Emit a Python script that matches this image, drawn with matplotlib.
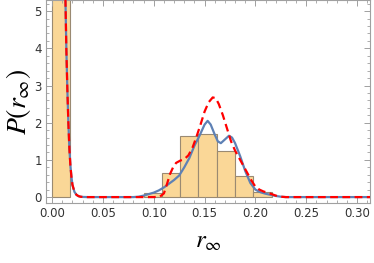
import numpy as np
import matplotlib
matplotlib.use("Agg")
import matplotlib.pyplot as plt
from matplotlib.ticker import MultipleLocator

# histogram (density), bin width 0.018
bin_left = [0.0, 0.090, 0.108, 0.126, 0.144, 0.162, 0.180, 0.198]
bin_height = [49.5, 0.10, 0.65, 1.64, 1.69, 1.24, 0.56, 0.14]
bin_width = 0.018

# blue curve
r_blue = [0.008, 0.010, 0.012, 0.013, 0.014, 0.015, 0.016, 0.017, 0.018, 0.019,
          0.020, 0.022, 0.024, 0.026, 0.028, 0.030, 0.035, 0.060, 0.080, 0.085,
          0.090, 0.095, 0.100, 0.105, 0.110, 0.115, 0.120, 0.125, 0.130, 0.135,
          0.140, 0.145, 0.150, 0.153, 0.156, 0.160, 0.163, 0.166, 0.170, 0.174,
          0.177, 0.180, 0.185, 0.190, 0.195, 0.200, 0.205, 0.210, 0.215, 0.220,
          0.225, 0.230, 0.260, 0.320]
p_blue = [20.0, 12.0, 7.5, 5.5, 4.0, 2.9, 2.0, 1.3, 0.85, 0.55,
          0.33, 0.14, 0.06, 0.025, 0.01, 0.004, 0.0, 0.0, 0.0, 0.01,
          0.04, 0.08, 0.12, 0.18, 0.26, 0.36, 0.46, 0.58, 0.80, 1.05,
          1.38, 1.65, 1.95, 2.05, 1.95, 1.68, 1.50, 1.45, 1.55, 1.65,
          1.60, 1.45, 1.10, 0.70, 0.38, 0.20, 0.13, 0.09, 0.06, 0.03,
          0.01, 0.0, 0.0, 0.0]

# red dashed curve
r_red = [0.008, 0.010, 0.012, 0.013, 0.014, 0.015, 0.016, 0.017, 0.018, 0.019,
         0.020, 0.022, 0.024, 0.026, 0.028, 0.030, 0.035, 0.080, 0.100, 0.106,
         0.110, 0.113, 0.116, 0.119, 0.122, 0.126, 0.130, 0.134, 0.138, 0.142,
         0.146, 0.150, 0.154, 0.158, 0.161, 0.164, 0.168, 0.172, 0.176, 0.180,
         0.184, 0.188, 0.192, 0.196, 0.200, 0.204, 0.208, 0.212, 0.216, 0.220,
         0.225, 0.230, 0.260, 0.320]
p_red = [20.0, 12.0, 7.5, 5.5, 4.0, 2.9, 2.0, 1.3, 0.85, 0.55,
         0.33, 0.14, 0.06, 0.025, 0.01, 0.004, 0.0, 0.0, 0.0, 0.01,
         0.10, 0.35, 0.62, 0.80, 0.92, 0.98, 1.02, 1.12, 1.32, 1.62,
         1.95, 2.30, 2.55, 2.68, 2.66, 2.50, 2.20, 1.85, 1.50, 1.25,
         1.05, 0.85, 0.65, 0.45, 0.28, 0.20, 0.15, 0.12, 0.08, 0.04,
         0.01, 0.0, 0.0, 0.0]

plt.rcParams['mathtext.fontset'] = 'stix'
fig = plt.figure(figsize=(3.74, 2.63), dpi=100)
ax = fig.add_axes([0.123, 0.228, 0.866, 0.772])

ax.bar(bin_left, bin_height, width=bin_width, align='edge',
       color='#fad797', edgecolor='#9a8a72', linewidth=0.8, zorder=1)
ax.plot(r_blue, p_blue, color='#5e81b5', linewidth=1.6, zorder=2)
ax.plot(r_red, p_red, color='#ff0000', linewidth=1.6, linestyle=(0, (3.5, 2)), zorder=3)

ax.set_xlim(-0.006, 0.3126)
ax.set_ylim(-0.16, 5.3)

ax.xaxis.set_major_locator(MultipleLocator(0.05))
ax.xaxis.set_minor_locator(MultipleLocator(0.01))
ax.yaxis.set_major_locator(MultipleLocator(1))
ax.yaxis.set_minor_locator(MultipleLocator(0.2))
ax.xaxis.set_major_formatter(matplotlib.ticker.FormatStrFormatter('%.2f'))

for s in ax.spines.values():
    s.set_color('#a0a0a0')
    s.set_linewidth(0.8)
ax.tick_params(which='both', direction='in', top=True, right=True,
               color='#a0a0a0', labelcolor='#333333', labelsize=8.5, pad=3)
ax.tick_params(which='major', length=4.5, width=0.7)
ax.tick_params(which='minor', length=2.5, width=0.6)

ax.set_xlabel(r'$r_\infty$', fontsize=18, labelpad=6)
ax.set_ylabel(r'$P(r_\infty)$', fontsize=20, labelpad=1)

fig.savefig('out.png', dpi=100)
